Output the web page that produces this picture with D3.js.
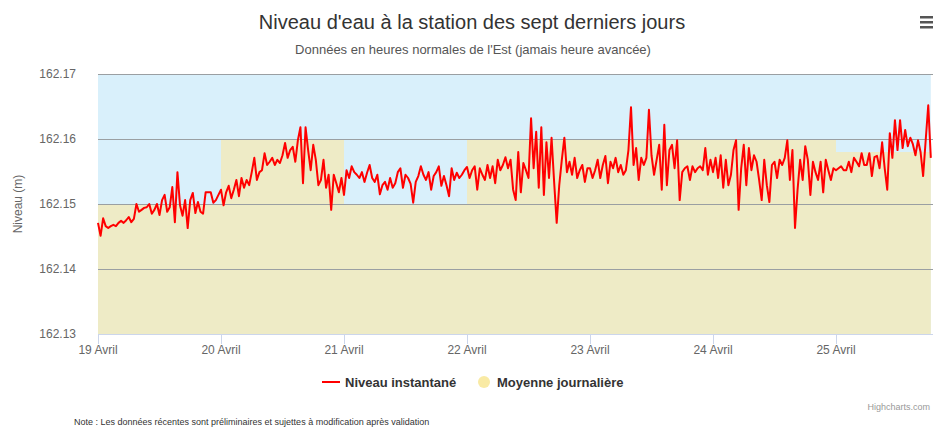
<!DOCTYPE html>
<html lang="fr">
<head>
<meta charset="UTF-8">
<script src="https://d3js.org/d3.v7.min.js"></script>
<style>
    body { margin: 0; padding: 0; background: #fff; }
    svg { display: block; font-family: "Liberation Sans", Arial, sans-serif; }
</style>
</head>
<body>
<div id="chart"></div>
<script>
// Jours affichés sur l'axe
const jours = ["19 Avril", "20 Avril", "21 Avril", "22 Avril", "23 Avril", "24 Avril", "25 Avril"];

// Moyenne journalière (m)
const moyenneJournaliere = [162.150, 162.160, 162.150, 162.160, 162.160, 162.160, 162.158];

// Niveau instantané, une valeur aux 30 minutes (m)
const niveau19 = [162.1471, 162.1451, 162.1478, 162.1466, 162.1463, 162.1466, 162.1468, 162.1466, 162.1471, 162.1474, 162.1471, 162.1475,
    162.1480, 162.1472, 162.1477, 162.1500, 162.1488, 162.1491, 162.1494, 162.1495, 162.1500, 162.1485, 162.1491, 162.1500,
    162.1483, 162.1506, 162.1514, 162.1488, 162.1495, 162.1526, 162.1472, 162.1549, 162.1498, 162.1482, 162.1506, 162.1463,
    162.1506, 162.1517, 162.1486, 162.1503, 162.1488, 162.1485, 162.1518, 162.1518, 162.1518, 162.1502, 162.1506, 162.1514];
const niveau20 = [162.1522, 162.1498, 162.1518, 162.1528, 162.1509, 162.1522, 162.1537, 162.1512, 162.1540, 162.1525, 162.1537, 162.1529,
    162.1549, 162.1571, 162.1537, 162.1549, 162.1552, 162.1578, 162.1560, 162.1565, 162.1571, 162.1560, 162.1568, 162.1563,
    162.1575, 162.1594, 162.1571, 162.1583, 162.1588, 162.1565, 162.1598, 162.1618, 162.1532, 162.1618, 162.1583, 162.1552,
    162.1591, 162.1568, 162.1529, 162.1537, 162.1568, 162.1525, 162.1545, 162.1491, 162.1545, 162.1532, 162.1518, 162.1540];
const niveau21 = [162.1514, 162.1552, 162.1540, 162.1558, 162.1549, 162.1545, 162.1540, 162.1549, 162.1534, 162.1548, 162.1560, 162.1540,
    162.1534, 162.1545, 162.1515, 162.1529, 162.1534, 162.1522, 162.1540, 162.1525, 162.1532, 162.1549, 162.1555, 162.1525,
    162.1545, 162.1540, 162.1531, 162.1502, 162.1534, 162.1543, 162.1558, 162.1545, 162.1537, 162.1549, 162.1522, 162.1543,
    162.1549, 162.1558, 162.1528, 162.1543, 162.1529, 162.1512, 162.1555, 162.1537, 162.1548, 162.1540, 162.1545, 162.1552];
const niveau22 = [162.1557, 162.1540, 162.1552, 162.1558, 162.1522, 162.1555, 162.1545, 162.1537, 162.1560, 162.1540, 162.1558, 162.1532,
    162.1568, 162.1552, 162.1560, 162.1572, 162.1555, 162.1568, 162.1522, 162.1506, 162.1580, 162.1518, 162.1563, 162.1552,
    162.1540, 162.1632, 162.1555, 162.1611, 162.1525, 162.1618, 162.1514, 162.1595, 162.1540, 162.1602, 162.1534, 162.1471,
    162.1529, 162.1568, 162.1602, 162.1549, 162.1565, 162.1545, 162.1571, 162.1540, 162.1552, 162.1560, 162.1534, 162.1555];
const niveau23 = [162.1555, 162.1540, 162.1552, 162.1568, 162.1540, 162.1560, 162.1574, 162.1532, 162.1565, 162.1555, 162.1571, 162.1549,
    162.1560, 162.1545, 162.1552, 162.1583, 162.1649, 162.1560, 162.1586, 162.1537, 162.1571, 162.1560, 162.1571, 162.1645,
    162.1575, 162.1545, 162.1568, 162.1591, 162.1522, 162.1622, 162.1529, 162.1583, 162.1591, 162.1555, 162.1598, 162.1506,
    162.1549, 162.1555, 162.1558, 162.1537, 162.1558, 162.1549, 162.1555, 162.1558, 162.1552, 162.1586, 162.1545, 162.1568];
const niveau24 = [162.1549, 162.1571, 162.1540, 162.1575, 162.1525, 162.1568, 162.1529, 162.1545, 162.1583, 162.1598, 162.1491, 162.1555,
    162.1591, 162.1529, 162.1586, 162.1552, 162.1575, 162.1565, 162.1537, 162.1506, 162.1568, 162.1529, 162.1503, 162.1560,
    162.1565, 162.1540, 162.1568, 162.1560, 162.1571, 162.1598, 162.1537, 162.1583, 162.1463, 162.1522, 162.1568, 162.1537,
    162.1589, 162.1568, 162.1514, 162.1565, 162.1549, 162.1537, 162.1565, 162.1518, 162.1568, 162.1552, 162.1537, 162.1555];
const niveau25 = [162.1552, 162.1555, 162.1558, 162.1552, 162.1552, 162.1565, 162.1549, 162.1571, 162.1565, 162.1558, 162.1578, 162.1560,
    162.1560, 162.1578, 162.1543, 162.1572, 162.1574, 162.1555, 162.1595, 162.1555, 162.1522, 162.1609, 162.1571, 162.1629,
    162.1583, 162.1629, 162.1586, 162.1614, 162.1589, 162.1602, 162.1592, 162.1575, 162.1598, 162.1580, 162.1543, 162.1598,
    162.1652, 162.1571];

const yTicks = [162.13, 162.14, 162.15, 162.16, 162.17];

// Construction des séries
const niveauParJour = [niveau19, niveau20, niveau21, niveau22, niveau23, niveau24, niveau25];
const niveau = niveauParJour.flatMap((arr, k) =>
    arr.map((v, i) => ({t: new Date(Date.UTC(2018, 3, 19 + k, 0, 30 * i)), v})));
const debutJour = jours.map((d, k) => new Date(Date.UTC(2018, 3, 19 + k)));
const fin = niveau[niveau.length - 1].t;
const moyenne = moyenneJournaliere.map((v, k) => ({t: debutJour[k], v}));
moyenne.push({t: fin, v: moyenneJournaliere[moyenneJournaliere.length - 1]});

// Dimensions
const width = 933, height = 429;
const margin = {top: 74, left: 98, bottom: 95};
const dayWidth = 123;
const plotBottom = height - margin.bottom;

const svg = d3.select("#chart").append("svg")
    .attr("width", width)
    .attr("height", height);

const x = d3.scaleUtc()
    .domain([debutJour[0], new Date(Date.UTC(2018, 3, 26))])
    .range([margin.left, margin.left + dayWidth * 7]);

const y = d3.scaleLinear()
    .domain([162.13, 162.17])
    .range([plotBottom, margin.top]);

// Fond de la zone de tracé
svg.append("rect")
    .attr("x", x(debutJour[0]))
    .attr("y", y(162.17))
    .attr("width", x(fin) - x(debutJour[0]))
    .attr("height", y(162.13) - y(162.17))
    .attr("fill", "#d9f0fb");

// Moyenne journalière (aire en escalier)
const aire = d3.area()
    .curve(d3.curveStepAfter)
    .x(d => x(d.t))
    .y0(y(162.13))
    .y1(d => y(d.v));

svg.append("path")
    .datum(moyenne)
    .attr("d", aire)
    .attr("fill", "#eeebc6");

// Grille horizontale
svg.append("g")
    .selectAll("line")
    .data(yTicks)
    .join("line")
    .attr("x1", margin.left)
    .attr("x2", width)
    .attr("y1", d => Math.round(y(d)) + 0.5)
    .attr("y2", d => Math.round(y(d)) + 0.5)
    .attr("stroke", d => d === 162.13 ? "#ccd6eb" : "#9a9fa2")
    .attr("stroke-width", 1);

// Axe Y
svg.append("g")
    .selectAll("text")
    .data(yTicks)
    .join("text")
    .attr("x", 76)
    .attr("y", d => y(d) + 4)
    .attr("text-anchor", "end")
    .attr("fill", "#666")
    .attr("font-size", 12)
    .text(d => d.toFixed(2));

svg.append("text")
    .attr("transform", `translate(22,${y(162.15)}) rotate(-90)`)
    .attr("text-anchor", "middle")
    .attr("fill", "#666")
    .attr("font-size", 12)
    .text("Niveau (m)");

// Axe X
const xAxis = svg.append("g");
xAxis.selectAll("line")
    .data(debutJour)
    .join("line")
    .attr("x1", d => Math.round(x(d)) + 0.5)
    .attr("x2", d => Math.round(x(d)) + 0.5)
    .attr("y1", plotBottom)
    .attr("y2", plotBottom + 10)
    .attr("stroke", "#ccd6eb");
xAxis.selectAll("text")
    .data(debutJour)
    .join("text")
    .attr("x", d => x(d))
    .attr("y", plotBottom + 20)
    .attr("text-anchor", "middle")
    .attr("fill", "#666")
    .attr("font-size", 12)
    .text((d, i) => jours[i]);

// Niveau instantané
const ligne = d3.line()
    .x(d => x(d.t))
    .y(d => y(d.v));

svg.append("path")
    .datum(niveau)
    .attr("d", ligne)
    .attr("fill", "none")
    .attr("stroke", "#ff0000")
    .attr("stroke-width", 2)
    .attr("stroke-linejoin", "round");

// Titres
svg.append("text")
    .attr("x", 472)
    .attr("y", 29)
    .attr("text-anchor", "middle")
    .attr("fill", "#333")
    .attr("font-size", 20)
    .text("Niveau d'eau à la station des sept derniers jours");

svg.append("text")
    .attr("x", 473)
    .attr("y", 54)
    .attr("text-anchor", "middle")
    .attr("fill", "#555")
    .attr("font-size", 13)
    .text("Données en heures normales de l'Est (jamais heure avancée)");

// Légende
const legende = svg.append("g").attr("font-size", 13).attr("font-weight", "bold").attr("fill", "#333");
legende.append("line")
    .attr("x1", 322).attr("x2", 340)
    .attr("y1", 382).attr("y2", 382)
    .attr("stroke", "#ff0000").attr("stroke-width", 2);
legende.append("text").attr("x", 345).attr("y", 387).text("Niveau instantané");
legende.append("circle")
    .attr("cx", 484).attr("cy", 382).attr("r", 6)
    .attr("fill", "#f9eaa4");
legende.append("text").attr("x", 497).attr("y", 387).text("Moyenne journalière");

// Crédits et note
svg.append("text")
    .attr("x", 930)
    .attr("y", 410)
    .attr("text-anchor", "end")
    .attr("fill", "#999")
    .attr("font-size", 9)
    .text("Highcharts.com");

svg.append("text")
    .attr("x", 74)
    .attr("y", 425)
    .attr("fill", "#333")
    .attr("font-size", 9)
    .text("Note : Les données récentes sont préliminaires et sujettes à modification après validation");

// Menu
svg.append("g")
    .selectAll("rect")
    .data([0, 1, 2])
    .join("rect")
    .attr("x", 920)
    .attr("y", d => 16 + d * 5)
    .attr("width", 13)
    .attr("height", 2.5)
    .attr("fill", "#555");
</script>
</body>
</html>
